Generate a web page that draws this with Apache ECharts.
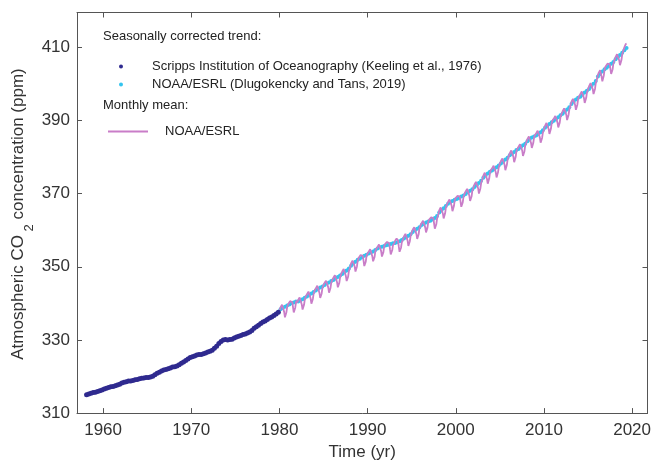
<!DOCTYPE html>
<html><head><meta charset="utf-8">
<script src="https://cdn.jsdelivr.net/npm/echarts@6/dist/echarts.min.js"></script>
<style>html,body{margin:0;padding:0;background:#fff}#c{width:654px;height:466px}</style>
</head><body><div id="c"></div><script>
const xTicks = [1960, 1970, 1980, 1990, 2000, 2010, 2020];
const yTicks = [310, 330, 350, 370, 390, 410];

// Scripps seasonally corrected trend, quarterly values from 1958
const scrippsStart = 1958;
const scrippsTrend = [
  315.0,315.2,315.4,315.6, 315.7,315.9,316.1,316.3, 316.6,316.8,317.0,317.2, 317.3,317.5,317.7,317.9,
  318.2,318.4,318.6,318.8, 318.8,318.9,319.1,319.2, 319.4,319.5,319.6,319.7, 319.7,319.9,320.1,320.5,
  320.9,321.2,321.5,321.8, 321.9,322.1,322.3,322.6, 322.7,322.9,323.2,323.6, 324.0,324.4,324.8,325.2,
  325.4,325.6,325.9,326.0, 326.0,326.2,326.4,326.7, 326.9,327.2,327.7,328.3, 329.0,329.6,330.0,330.1,
  330.0,330.1,330.2,330.5, 330.8,331.0,331.2,331.5, 331.6,331.9,332.2,332.6, 333.2,333.6,334.0,334.5,
  334.9,335.2,335.6,336.0, 336.3,336.7,337.1,337.6
];

// NOAA/ESRL seasonally corrected trend, quarterly values from 1980
const noaaTrendStart = 1980;
const noaaTrend = [
  338.4,338.7,339.1,339.4, 339.7,340.0,340.2,340.5, 340.5,340.8,341.1,341.5, 341.9,342.3,342.7,343.1,
  343.5,343.9,344.3,344.6, 345.0,345.4,345.7,346.1, 346.4,346.8,347.2,347.6, 348.0,348.5,349.0,349.5,
  350.3,350.9,351.4,351.9, 352.2,352.6,353.0,353.3, 353.6,353.9,354.2,354.6, 355.0,355.3,355.5,355.7,
  355.9,356.0,356.2,356.4, 356.5,356.7,357.0,357.3, 357.7,358.1,358.5,358.9, 359.5,360.0,360.4,360.8,
  361.4,361.7,362.1,362.4, 362.6,362.9,363.3,363.9, 364.8,365.4,366.0,366.6, 367.2,367.6,368.0,368.3,
  368.5,368.8,369.2,369.5, 369.9,370.4,370.8,371.2, 371.8,372.3,372.9,373.5, 374.3,374.9,375.5,376.0,
  376.3,376.7,377.2,377.7, 378.2,378.7,379.3,379.8, 380.5,380.9,381.4,381.9, 382.2,382.7,383.2,383.6,
  384.3,384.8,385.3,385.6, 385.9,386.3,386.8,387.3, 388.0,388.5,389.0,389.5, 389.9,390.4,390.9,391.4,
  391.8,392.4,393.0,393.6, 394.5,395.1,395.7,396.2, 396.5,397.0,397.6,398.1, 398.6,399.3,400.0,400.8,
  402.0,402.7,403.4,404.0, 404.4,404.9,405.5,406.0, 406.7,407.3,407.9,408.5, 409.2,409.8
];

// NOAA/ESRL monthly mean, from January 1980
const monthlyStart = 1980;
const monthly1980s = [
  338.2,338.9,339.3,339.6,339.8,339.1,337.6,336.2,336.2,337.6,339.0,339.6,
  339.4,340.1,340.6,340.8,340.9,340.3,338.9,337.5,337.3,338.8,340.2,340.8,
  340.2,340.9,341.3,341.6,341.7,341.1,339.6,338.3,338.2,339.6,341.0,341.7,
  341.8,342.5,342.9,343.2,343.4,342.8,341.3,339.9,339.8,341.2,342.6,343.3,
  343.4,344.1,344.5,344.8,344.9,344.3,342.8,341.5,341.3,342.7,344.2,344.8,
  344.8,345.6,346.0,346.2,346.3,345.7,344.3,342.9,342.7,344.2,345.6,346.2,
  346.3,347.0,347.5,347.7,347.8,347.2,345.7,344.4,344.2,345.6,347.0,347.7,
  347.9,348.7,349.1,349.4,349.5,348.9,347.4,346.1,345.9,347.3,348.8,349.4,
  350.1,350.9,351.4,351.7,351.9,351.4,350.0,348.7,348.6,350.1,351.6,352.3,
  352.1,352.8,353.2,353.5,353.6,353.0,351.6,350.2,350.0,351.4,352.9,353.5
];
const monthly1990s = [
  353.4,354.1,354.5,354.8,354.9,354.3,352.8,351.5,351.3,352.7,354.2,354.8,
  354.7,355.4,355.9,356.1,356.2,355.6,354.2,352.8,352.6,354.0,355.5,356.1,
  355.8,356.4,356.8,357.0,357.0,356.4,354.8,353.4,353.2,354.5,355.9,356.4,
  356.5,357.1,357.5,357.7,357.7,357.1,355.5,354.1,353.9,355.2,356.6,357.1,
  357.6,358.3,358.8,359.0,359.1,358.5,357.1,355.7,355.5,357.0,358.4,359.0,
  359.4,360.2,360.6,360.8,361.0,360.4,358.9,357.6,357.4,358.9,360.4,361.0,
  361.1,361.9,362.3,362.6,362.7,362.1,360.7,359.4,359.2,360.7,362.2,362.8,
  362.4,363.1,363.5,363.7,363.8,363.3,361.8,360.4,360.2,361.6,363.1,363.8,
  364.5,365.4,365.9,366.2,366.4,365.9,364.5,363.2,363.1,364.6,366.1,366.8,
  366.9,367.7,368.1,368.4,368.5,368.0,366.6,365.2,365.1,366.6,368.1,368.7
];
const monthly2000s = [
  368.3,369.0,369.4,369.7,369.8,369.2,367.8,366.4,366.2,367.6,369.1,369.7,
  369.9,370.6,371.0,371.3,371.4,370.8,369.4,368.0,367.8,369.2,370.7,371.3,
  371.7,372.5,372.9,373.2,373.3,372.8,371.4,370.0,369.9,371.4,372.8,373.5,
  374.1,374.9,375.4,375.7,375.9,375.4,374.0,372.7,372.6,374.1,375.6,376.3,
  376.1,376.9,377.3,377.6,377.7,377.2,375.8,374.4,374.3,375.8,377.2,377.9,
  378.1,378.9,379.3,379.6,379.7,379.2,377.8,376.4,376.3,377.8,379.2,379.9,
  380.2,381.0,381.5,381.8,381.9,381.4,380.0,378.6,378.5,380.0,381.5,382.1,
  382.0,382.8,383.2,383.5,383.6,383.1,381.7,380.3,380.2,381.6,383.1,383.7,
  384.1,384.9,385.3,385.6,385.7,385.2,383.8,382.5,382.3,383.8,385.3,385.9,
  385.8,386.5,387.0,387.2,387.3,386.7,385.3,383.9,383.7,385.2,386.6,387.2
];
const monthly2010s = [
  387.7,388.5,389.0,389.3,389.5,389.0,387.6,386.3,386.2,387.7,389.2,389.9,
  389.7,390.5,390.9,391.2,391.3,390.8,389.4,388.1,387.9,389.4,390.9,391.5,
  391.8,392.5,393.0,393.3,393.4,392.9,391.5,390.1,390.0,391.5,392.9,393.6,
  394.3,395.1,395.6,395.9,396.1,395.6,394.2,392.9,392.8,394.3,395.8,396.5,
  396.4,397.2,397.6,397.9,398.0,397.5,396.1,394.8,394.6,396.1,397.6,398.2,
  398.6,399.4,399.9,400.2,400.4,399.9,398.5,397.2,397.1,398.6,400.1,400.8,
  401.5,402.4,403.0,403.4,403.7,403.2,401.9,400.7,400.7,402.3,403.9,404.6,
  404.3,405.1,405.5,405.8,405.9,405.4,404.0,402.7,402.5,404.0,405.5,406.1,
  406.5,407.3,407.8,408.1,408.3,407.8,406.4,405.1,405.0,406.5,408.0,408.7,
  409.2,410.0,410.5,410.9,411.0
];

const FONT = '"Liberation Sans", Arial, Helvetica, sans-serif';
const monthly = monthly1980s.concat(monthly1990s, monthly2000s, monthly2010s);
const monthlyPairs = monthly.map((v, i) => [monthlyStart + (i + 0.5) / 12, v]);
const noaaTrendPairs = noaaTrend.map((v, i) => [noaaTrendStart + (i + 0.5) / 4, v]);
const scrippsPairs = scrippsTrend.map((v, i) => [scrippsStart + (i + 0.5) / 4, v]);

const AX = '#555';
const chart = echarts.init(document.getElementById('c'), null, {renderer: 'canvas'});
const nameScripps = 'Scripps Institution of Oceanography (Keeling et al., 1976)';
const nameNoaaTrend = 'NOAA/ESRL (Dlugokencky and Tans, 2019)';
const nameMonthly = 'NOAA/ESRL';

chart.setOption({
  animation: false,
  backgroundColor: '#fff',
  grid: {left: 77, right: 2, top: 12.5, bottom: 48.7},
  xAxis: [{
    type: 'value', min: 1957.04, max: 2021.75, position: 'bottom',
    name: 'Time (yr)', nameLocation: 'middle', nameGap: 30,
    nameTextStyle: {fontSize: 17, color: '#333', fontFamily: FONT},
    axisLine: {show: true, onZero: false, lineStyle: {color: AX, width: 1}},
    axisTick: {show: true, inside: true, length: 5, customValues: xTicks, lineStyle: {color: AX}},
    axisLabel: {customValues: xTicks, fontSize: 17, color: '#333', fontFamily: FONT, margin: 9, formatter: v => String(v)},
    splitLine: {show: false}
  }, {
    type: 'value', min: 1957.04, max: 2021.75, position: 'top',
    axisLine: {show: true, onZero: false, lineStyle: {color: AX, width: 1}},
    axisTick: {show: true, inside: true, length: 5, customValues: xTicks, lineStyle: {color: AX}},
    axisLabel: {show: false},
    splitLine: {show: false}
  }],
  yAxis: [{
    type: 'value', min: 310, max: 419.5, position: 'left',
    axisLine: {show: true, onZero: false, lineStyle: {color: AX, width: 1}},
    axisTick: {show: true, inside: true, length: 5, customValues: yTicks, lineStyle: {color: AX}},
    axisLabel: {customValues: yTicks, fontSize: 17, color: '#333', fontFamily: FONT, margin: 7},
    splitLine: {show: false}
  }, {
    type: 'value', min: 310, max: 419.5, position: 'right',
    axisLine: {show: true, onZero: false, lineStyle: {color: AX, width: 1}},
    axisTick: {show: true, inside: true, length: 5, customValues: yTicks, lineStyle: {color: AX}},
    axisLabel: {show: false},
    splitLine: {show: false}
  }],
  legend: [{
    data: [nameScripps, nameNoaaTrend], orient: 'vertical', left: 114, top: 54,
    icon: 'circle', itemWidth: 4, itemHeight: 4, itemGap: 3, selectedMode: false,
    textStyle: {fontSize: 13, color: '#222', fontFamily: FONT, lineHeight: 15, padding: [0, 0, 0, 24]}
  }, {
    data: [{name: nameMonthly, icon: 'rect'}], left: 103, top: 119, itemWidth: 40, itemHeight: 2, selectedMode: false,
    itemStyle: {color: '#C97DC8'},
    textStyle: {fontSize: 13, color: '#222', fontFamily: FONT, lineHeight: 15, padding: [0, 0, 0, 12]}
  }],
  graphic: [
    {type: 'text', left: 103, top: 30, style: {text: 'Seasonally corrected trend:', font: '13px ' + FONT, fill: '#222'}},
    {type: 'text', left: 103, top: 99, style: {text: 'Monthly mean:', font: '13px ' + FONT, fill: '#222'}},
    {type: 'text', x: 18, y: 214, rotation: Math.PI / 2, style: {
      text: '{a|Atmospheric CO}{s| 2}{a| concentration (ppm)}',
      align: 'center', verticalAlign: 'middle',
      rich: {
        a: {fontSize: 17, fontFamily: FONT, fill: '#333', lineHeight: 36, verticalAlign: 'middle'},
        s: {fontSize: 13, fontFamily: FONT, fill: '#333', lineHeight: 13, verticalAlign: 'bottom'}
      }
    }}
  ],
  series: [{
    type: 'scatter', name: nameNoaaTrend, data: noaaTrendPairs, xAxisIndex: 0, yAxisIndex: 0,
    symbolSize: 4, z: 2, itemStyle: {color: '#33C4EF', opacity: 1}
  }, {
    type: 'line', name: nameMonthly, data: monthlyPairs, xAxisIndex: 0, yAxisIndex: 0,
    showSymbol: false, symbol: 'none', z: 4,
    lineStyle: {color: '#C97DC8', width: 1.8}, itemStyle: {color: '#C97DC8'}
  }, {
    type: 'scatter', name: nameScripps, data: scrippsPairs, xAxisIndex: 0, yAxisIndex: 0,
    symbolSize: 5, z: 3, itemStyle: {color: '#2F2A8F', opacity: 1}
  }]
});
</script></body></html>
